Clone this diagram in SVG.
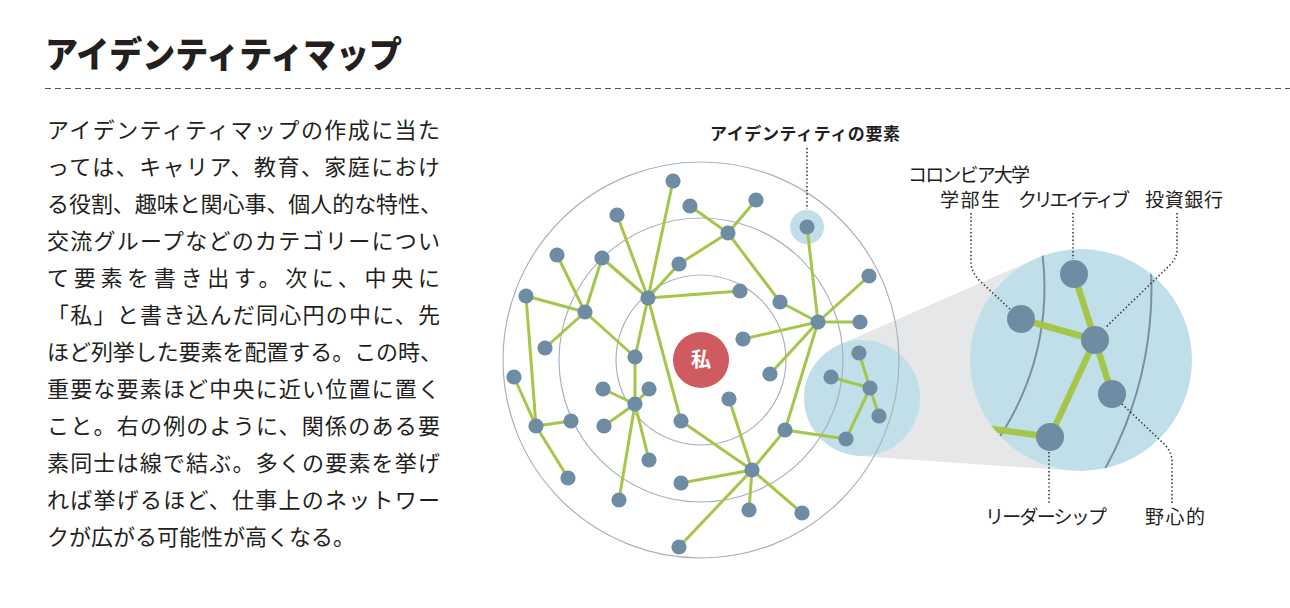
<svg xmlns="http://www.w3.org/2000/svg" width="1290" height="608" viewBox="0 0 1290 608">
<style>
.t{font-family:"Noto Sans CJK JP","Noto Sans",sans-serif;fill:#231f20}
.body{font-size:22px}
.lbl{font-size:19px}
.ring{fill:none;stroke:#a9b1c1;stroke-width:1.2}
.zring{fill:none;stroke:#7b8fa4;stroke-width:2}
.e{stroke:#a5c64a;stroke-width:3;stroke-linecap:round}
.ez{stroke:#a5c64a;stroke-width:6.5;stroke-linecap:butt}
.n{fill:#6f8ca5}
.lead{fill:none;stroke:#333;stroke-width:1.6;stroke-dasharray:1.4 2.4}
</style>
<defs>
<clipPath id="bigclip"><circle cx="1081" cy="360" r="111"/></clipPath>
</defs>
<rect width="1290" height="608" fill="#fff"/>
<g id="title">
<text class="t" x="45" y="68" font-size="36" font-weight="900" textLength="357" lengthAdjust="spacingAndGlyphs">アイデンティティマップ</text>
<line x1="45" y1="88.5" x2="1290" y2="88.5" stroke="#555" stroke-width="1" stroke-dasharray="6 4"/>
</g>
<g id="body-text" class="t body">
<text x="47" y="138" textLength="393" lengthAdjust="spacing">アイデンティティマップの作成に当た</text>
<text x="47" y="175" textLength="393" lengthAdjust="spacing">っては、キャリア、教育、家庭におけ</text>
<text x="47" y="212" textLength="395" lengthAdjust="spacing">る役割、趣味と関心事、個人的な特性、</text>
<text x="47" y="249" textLength="393" lengthAdjust="spacing">交流グループなどのカテゴリーについ</text>
<text x="47" y="286" textLength="393" lengthAdjust="spacing">て要素を書き出す。次に、中央に</text>
<text x="47" y="323" textLength="393" lengthAdjust="spacing">「私」と書き込んだ同心円の中に、先</text>
<text x="47" y="360" textLength="395" lengthAdjust="spacing">ほど列挙した要素を配置する。この時、</text>
<text x="47" y="397" textLength="393" lengthAdjust="spacing">重要な要素ほど中央に近い位置に置く</text>
<text x="47" y="434" textLength="393" lengthAdjust="spacing">こと。右の例のように、関係のある要</text>
<text x="47" y="471" textLength="393" lengthAdjust="spacing">素同士は線で結ぶ。多くの要素を挙げ</text>
<text x="47" y="508" textLength="393" lengthAdjust="spacing">れば挙げるほど、仕事上のネットワー</text>
<text x="47" y="545">クが広がる可能性が高くなる。</text>
</g>
<g id="zoom-cone">
<polygon points="838.7,344.9 1036.5,258.3 1073.4,470.7 858,455.9" fill="#e6e7e8"/>
<circle cx="862" cy="398" r="58" fill="#c1dfe9"/>
</g>
<g id="highlight">
<circle cx="807" cy="227" r="17" fill="#c1dfe9"/>
</g>
<g id="rings">
<circle class="ring" cx="701" cy="360" r="85"/>
<circle class="ring" cx="701" cy="360" r="142"/>
<circle class="ring" cx="701" cy="360" r="198"/>
</g>
<g id="connectors">
<line class="e" x1="673" y1="181" x2="648" y2="298"/>
<line class="e" x1="617" y1="215" x2="648" y2="298"/>
<line class="e" x1="602" y1="258" x2="648" y2="298"/>
<line class="e" x1="679" y1="264" x2="648" y2="298"/>
<line class="e" x1="740" y1="291" x2="648" y2="298"/>
<line class="e" x1="635" y1="357" x2="648" y2="298"/>
<line class="e" x1="681" y1="421" x2="648" y2="298"/>
<line class="e" x1="690" y1="206" x2="728" y2="233"/>
<line class="e" x1="679" y1="264" x2="728" y2="233"/>
<line class="e" x1="756" y1="200" x2="728" y2="233"/>
<line class="e" x1="780" y1="302" x2="728" y2="233"/>
<line class="e" x1="780" y1="302" x2="818" y2="322"/>
<line class="e" x1="807" y1="227" x2="818" y2="322"/>
<line class="e" x1="869" y1="276" x2="818" y2="322"/>
<line class="e" x1="860" y1="322" x2="818" y2="322"/>
<line class="e" x1="743" y1="339" x2="818" y2="322"/>
<line class="e" x1="770" y1="374" x2="818" y2="322"/>
<line class="e" x1="785" y1="430" x2="818" y2="322"/>
<line class="e" x1="526" y1="296" x2="585" y2="312"/>
<line class="e" x1="557" y1="255" x2="585" y2="312"/>
<line class="e" x1="602" y1="258" x2="585" y2="312"/>
<line class="e" x1="545" y1="348" x2="585" y2="312"/>
<line class="e" x1="635" y1="357" x2="585" y2="312"/>
<line class="e" x1="526" y1="296" x2="536" y2="426"/>
<line class="e" x1="514" y1="377" x2="536" y2="426"/>
<line class="e" x1="571" y1="421" x2="536" y2="426"/>
<line class="e" x1="568" y1="478" x2="536" y2="426"/>
<line class="e" x1="635" y1="357" x2="635" y2="404"/>
<line class="e" x1="603" y1="389" x2="635" y2="404"/>
<line class="e" x1="649" y1="389" x2="635" y2="404"/>
<line class="e" x1="604" y1="426" x2="635" y2="404"/>
<line class="e" x1="649" y1="460" x2="635" y2="404"/>
<line class="e" x1="619" y1="500" x2="635" y2="404"/>
<line class="e" x1="846" y1="439" x2="785" y2="430"/>
<line class="e" x1="752" y1="470" x2="785" y2="430"/>
<line class="e" x1="859" y1="353" x2="870" y2="388"/>
<line class="e" x1="831" y1="377" x2="870" y2="388"/>
<line class="e" x1="879" y1="416" x2="870" y2="388"/>
<line class="e" x1="846" y1="439" x2="870" y2="388"/>
<line class="e" x1="729" y1="399" x2="752" y2="470"/>
<line class="e" x1="749" y1="510" x2="752" y2="470"/>
<line class="e" x1="802" y1="513" x2="752" y2="470"/>
<line class="e" x1="681" y1="421" x2="752" y2="470"/>
<line class="e" x1="681" y1="483" x2="752" y2="470"/>
<line class="e" x1="679" y1="547" x2="752" y2="470"/>
</g>
<g id="nodes" class="n">
<circle cx="673" cy="181" r="7.6"/>
<circle cx="690" cy="206" r="7.6"/>
<circle cx="617" cy="215" r="7.6"/>
<circle cx="557" cy="255" r="7.6"/>
<circle cx="602" cy="258" r="7.6"/>
<circle cx="679" cy="264" r="7.6"/>
<circle cx="526" cy="296" r="7.6"/>
<circle cx="648" cy="298" r="7.6"/>
<circle cx="585" cy="312" r="7.6"/>
<circle cx="545" cy="348" r="7.6"/>
<circle cx="635" cy="357" r="7.6"/>
<circle cx="756" cy="200" r="7.6"/>
<circle cx="728" cy="233" r="7.6"/>
<circle cx="807" cy="227" r="7.6"/>
<circle cx="869" cy="276" r="7.6"/>
<circle cx="740" cy="291" r="7.6"/>
<circle cx="780" cy="302" r="7.6"/>
<circle cx="818" cy="322" r="7.6"/>
<circle cx="860" cy="322" r="7.6"/>
<circle cx="743" cy="339" r="7.6"/>
<circle cx="859" cy="353" r="7.6"/>
<circle cx="831" cy="377" r="7.6"/>
<circle cx="870" cy="388" r="7.6"/>
<circle cx="879" cy="416" r="7.6"/>
<circle cx="846" cy="439" r="7.6"/>
<circle cx="770" cy="374" r="7.6"/>
<circle cx="729" cy="399" r="7.6"/>
<circle cx="785" cy="430" r="7.6"/>
<circle cx="752" cy="470" r="7.6"/>
<circle cx="749" cy="510" r="7.6"/>
<circle cx="802" cy="513" r="7.6"/>
<circle cx="514" cy="377" r="7.6"/>
<circle cx="603" cy="389" r="7.6"/>
<circle cx="649" cy="389" r="7.6"/>
<circle cx="635" cy="404" r="7.6"/>
<circle cx="536" cy="426" r="7.6"/>
<circle cx="571" cy="421" r="7.6"/>
<circle cx="604" cy="426" r="7.6"/>
<circle cx="681" cy="421" r="7.6"/>
<circle cx="649" cy="460" r="7.6"/>
<circle cx="568" cy="478" r="7.6"/>
<circle cx="681" cy="483" r="7.6"/>
<circle cx="619" cy="500" r="7.6"/>
<circle cx="679" cy="547" r="7.6"/>
</g>
<g id="me">
<circle cx="701" cy="360" r="28" fill="#cf5a5f"/>
<text class="t" x="701" y="367" font-size="20" font-weight="700" text-anchor="middle" style="fill:#fff">私</text>
</g>
<g id="element-label">
<text class="t" x="710" y="140" font-size="17" font-weight="700" textLength="190" lengthAdjust="spacing">アイデンティティの要素</text>
<line class="lead" x1="807" y1="148" x2="807" y2="209"/>
</g>
<g id="zoom-detail">
<circle cx="1081" cy="360" r="111" fill="#c1dfe9"/>
<g clip-path="url(#bigclip)">
<circle class="zring" cx="773.5" cy="287.4" r="271"/>
<circle class="zring" cx="773.5" cy="287.4" r="378"/>
<line class="ez" x1="1050" y1="437" x2="934" y2="421"/>
</g>
<line class="ez" x1="1074" y1="274" x2="1095" y2="340"/>
<line class="ez" x1="1021" y1="319" x2="1095" y2="340"/>
<line class="ez" x1="1112" y1="394" x2="1095" y2="340"/>
<line class="ez" x1="1050" y1="437" x2="1095" y2="340"/>
<g class="n">
<circle cx="1074" cy="274" r="14"/>
<circle cx="1021" cy="319" r="14"/>
<circle cx="1095" cy="340" r="14"/>
<circle cx="1112" cy="394" r="14"/>
<circle cx="1050" cy="437" r="14"/>
</g>
</g>
<g id="label-columbia">
<text class="t lbl" x="908" y="182" textLength="122" lengthAdjust="spacing">コロンビア大学</text>
<text class="t lbl" x="940" y="207" textLength="60" lengthAdjust="spacing">学部生</text>
<path class="lead" d="M971,213 L971,262 Q971,272 980,281 L1011,310"/>
</g>
<g id="label-creative">
<text class="t lbl" x="1018" y="207" textLength="112" lengthAdjust="spacing">クリエイティブ</text>
<line class="lead" x1="1073" y1="213" x2="1073" y2="259"/>
</g>
<g id="label-banking">
<text class="t lbl" x="1145" y="207" textLength="78" lengthAdjust="spacing">投資銀行</text>
<path class="lead" d="M1177,213 L1177,250 Q1177,258 1170,265 L1105,328"/>
</g>
<g id="label-leadership">
<text class="t lbl" x="985" y="524" textLength="122" lengthAdjust="spacing">リーダーシップ</text>
<line class="lead" x1="1049" y1="452" x2="1049" y2="505"/>
</g>
<g id="label-ambition">
<text class="t lbl" x="1145" y="524" textLength="60" lengthAdjust="spacing">野心的</text>
<path class="lead" d="M1122,404 L1162,442 Q1172,451 1172,462 L1172,505"/>
</g>
</svg>
